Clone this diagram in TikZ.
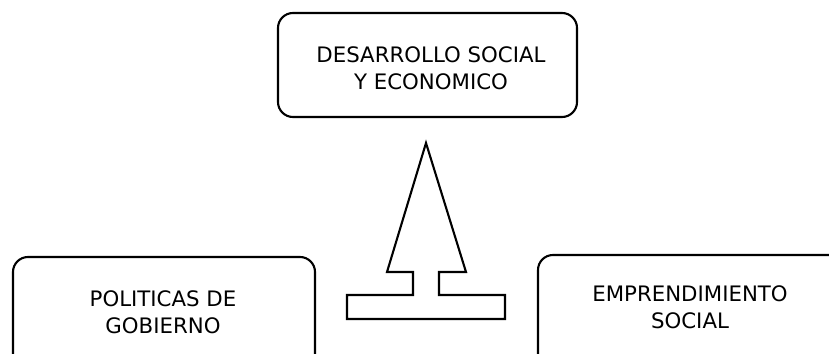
\documentclass[tikz,border=0pt]{standalone}
\usepackage{fontspec}
\setmainfont{DejaVu Sans}
\begin{document}
\begin{tikzpicture}[x=1pt,y=-1pt,
  frame/.style={draw, line width=2.1pt, rounded corners=15pt, inner sep=0pt},
  txt/.style={align=center, font=\fontsize{21.3}{27}\selectfont, inner sep=0pt},
  blockarrow/.style={draw, line width=2.1pt, fill=white}]
\useasboundingbox (0,0) rectangle (829,353);
\clip (0,0) rectangle (829,353);
% frames
\node[frame, minimum width=299pt, minimum height=104pt] (topbox) at (427.5,65) {};
\node[frame, minimum width=302pt, minimum height=118pt] (leftbox) at (164,316) {};
\node[frame, minimum width=332pt, minimum height=120pt] (rightbox) at (704,315) {};
% texts
\node[txt] (toptext) at (431,68.5) {DESARROLLO SOCIAL\\Y ECONOMICO};
\node[txt] (lefttext) at (163,312.5) {POLITICAS DE\\GOBIERNO};
\node[txt] (righttext) at (690,307) {EMPRENDIMIENTO\\SOCIAL};
% block arrow
\draw[blockarrow] (426,143) -- (466,272) -- (439,272) -- (439,295) -- (505,295)
  -- (505,319) -- (347,319) -- (347,295) -- (413,295) -- (413,272) -- (387,272) -- cycle;
\end{tikzpicture}
\end{document}
